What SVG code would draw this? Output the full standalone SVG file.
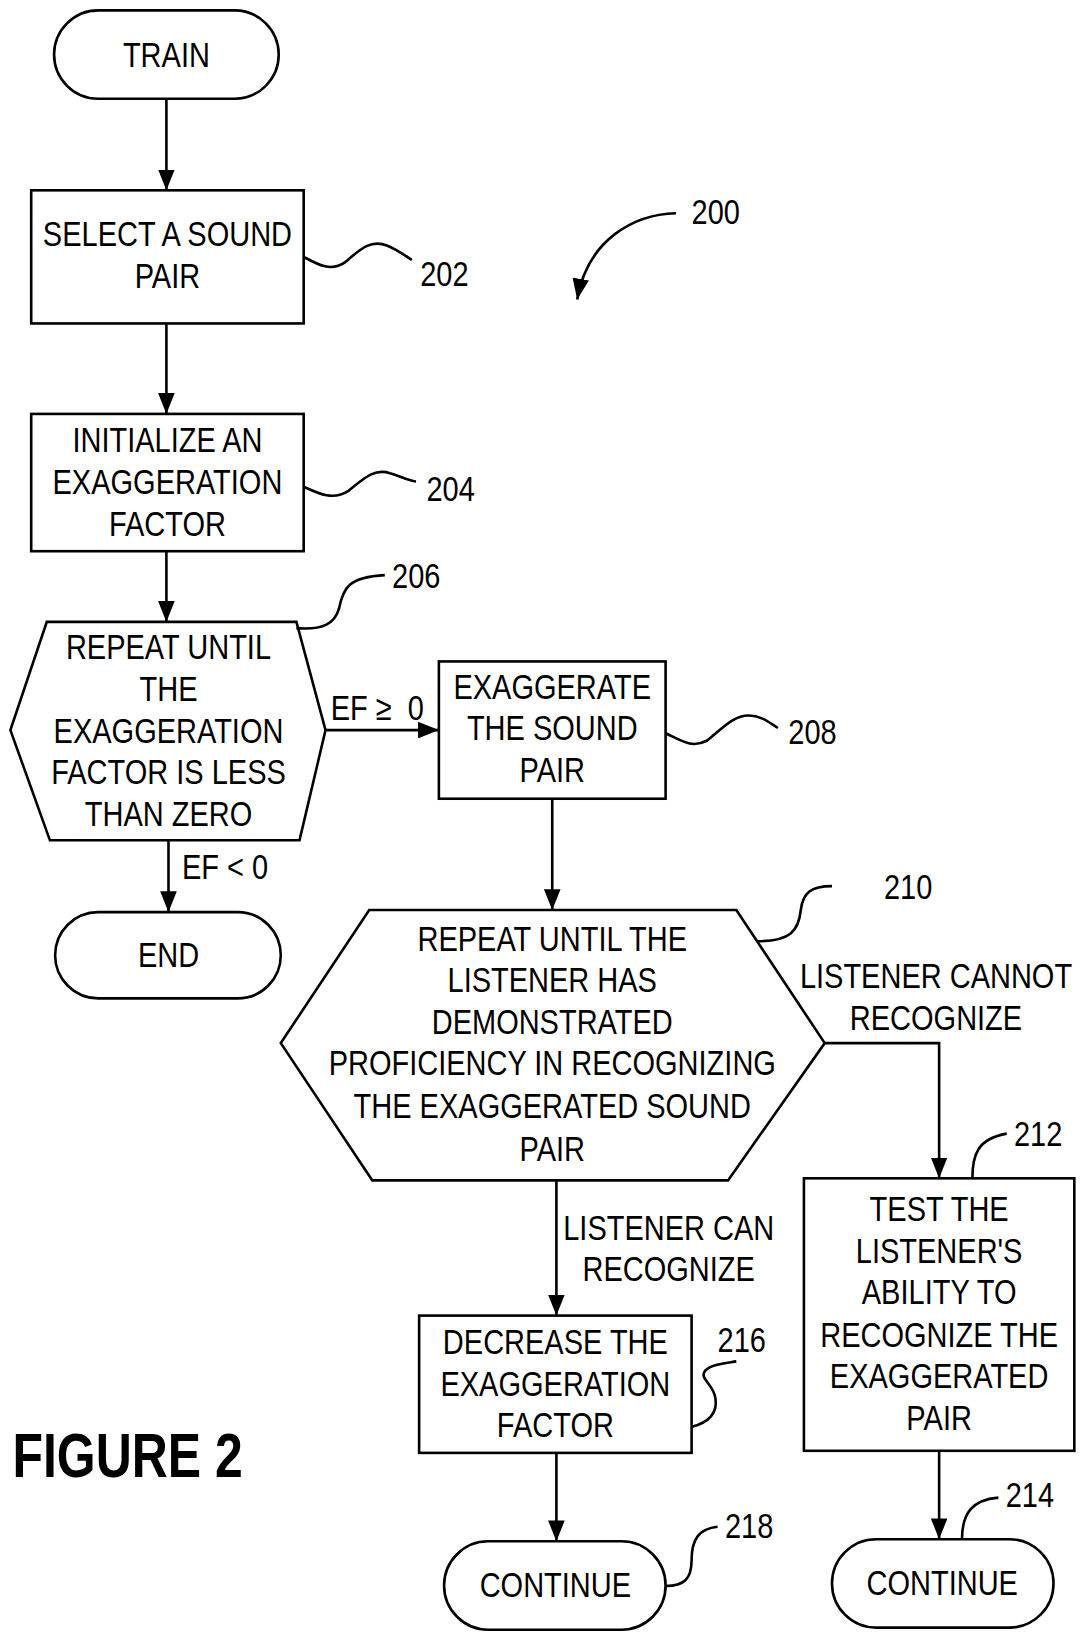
<svg xmlns="http://www.w3.org/2000/svg" width="1080" height="1633" viewBox="0 0 1080 1633">
<defs>
<style>
.s{fill:none;stroke:#000;stroke-width:2.5}
.b{fill:#fff;stroke:#000;stroke-width:2.5}
.n{font-family:"Liberation Sans",Arial,sans-serif;font-size:34px;fill:#000;text-anchor:middle}
.l{font-family:"Liberation Sans",Arial,sans-serif;font-size:34px;fill:#000}
.f{font-family:"Liberation Sans",Arial,sans-serif;font-size:60px;font-weight:bold;fill:#000}
</style>
<marker id="ah" viewBox="0 0 20 16" refX="20" refY="8" markerWidth="20" markerHeight="16" orient="auto" markerUnits="userSpaceOnUse"><path d="M0,0 L20,8 L0,16 Z" fill="#000"/></marker>
</defs>
<rect width="1080" height="1633" fill="#fff"/>
<g transform="scale(1.04)">
<g id="connectors">
<line class="s" x1="160" y1="95" x2="160" y2="183" marker-end="url(#ah)"/>
<line class="s" x1="160" y1="311" x2="160" y2="398" marker-end="url(#ah)"/>
<line class="s" x1="160" y1="530" x2="160" y2="598" marker-end="url(#ah)"/>
<line class="s" x1="313" y1="702" x2="422" y2="702" marker-end="url(#ah)"/>
<text class="l" transform="translate(318 692) scale(0.82 1)" xml:space="preserve">EF ≥  0</text>
<line class="s" x1="162" y1="808" x2="162" y2="877" marker-end="url(#ah)"/>
<text class="l" transform="translate(175 845) scale(0.82 1)">EF &lt; 0</text>
<line class="s" x1="531" y1="768" x2="531" y2="875" marker-end="url(#ah)"/>
<path class="s" d="M793,1003 H903 V1133" marker-end="url(#ah)"/>
<text class="n" transform="translate(900 950) scale(0.82 1)">LISTENER CANNOT</text>
<text class="n" transform="translate(900 990) scale(0.82 1)">RECOGNIZE</text>
<line class="s" x1="535" y1="1135" x2="535" y2="1265" marker-end="url(#ah)"/>
<text class="n" transform="translate(643 1192) scale(0.82 1)">LISTENER CAN</text>
<text class="n" transform="translate(643 1232) scale(0.82 1)">RECOGNIZE</text>
<line class="s" x1="535" y1="1397" x2="535" y2="1482" marker-end="url(#ah)"/>
<line class="s" x1="903" y1="1395" x2="903" y2="1480" marker-end="url(#ah)"/>
<path class="s" d="M650,205 C610,206 565,230 555,288" marker-end="url(#ah)"/>
<text class="l" transform="translate(665 215) scale(0.82 1)">200</text>
</g>
<g id="train">
<rect class="b" x="52" y="10" width="216" height="85" rx="42.5"/>
<text class="n" transform="translate(160 64) scale(0.82 1)">TRAIN</text>
</g>
<g id="n202">
<rect class="b" x="30" y="183" width="262" height="128"/>
<text class="n" transform="translate(161 237) scale(0.82 1)">SELECT A SOUND</text>
<text class="n" transform="translate(161 277) scale(0.82 1)">PAIR</text>
<path class="s" d="M292,247 C305,254 318,262 332,252 C346,240 356,230 372,236 C382,240 390,246 396,250"/>
<text class="l" transform="translate(404 275) scale(0.82 1)">202</text>
</g>
<g id="n204">
<rect class="b" x="30" y="398" width="262" height="132"/>
<text class="n" transform="translate(161 435) scale(0.82 1)">INITIALIZE AN</text>
<text class="n" transform="translate(161 475) scale(0.82 1)">EXAGGERATION</text>
<text class="n" transform="translate(161 515) scale(0.82 1)">FACTOR</text>
<path class="s" d="M292,468 C305,474 320,482 335,472 C350,460 360,450 375,455 C385,458 392,462 400,463"/>
<text class="l" transform="translate(410 482) scale(0.82 1)">204</text>
</g>
<g id="n206">
<polygon class="b" points="45,598 285,598 313,702 288,808 48,808 10,702"/>
<text class="n" transform="translate(162 634) scale(0.82 1)">REPEAT UNTIL</text>
<text class="n" transform="translate(162 674) scale(0.82 1)">THE</text>
<text class="n" transform="translate(162 714) scale(0.82 1)">EXAGGERATION</text>
<text class="n" transform="translate(162 754) scale(0.82 1)">FACTOR IS LESS</text>
<text class="n" transform="translate(162 794) scale(0.82 1)">THAN ZERO</text>
<path class="s" d="M285,604 C310,606 322,600 326,585 C330,565 335,555 370,553"/>
<text class="l" transform="translate(377 565) scale(0.82 1)">206</text>
</g>
<g id="n208">
<rect class="b" x="422" y="636" width="218" height="132"/>
<text class="n" transform="translate(531 672) scale(0.82 1)">EXAGGERATE</text>
<text class="n" transform="translate(531 712) scale(0.82 1)">THE SOUND</text>
<text class="n" transform="translate(531 752) scale(0.82 1)">PAIR</text>
<path class="s" d="M640,705 C655,712 665,720 680,712 C695,700 705,688 720,688 C732,688 740,695 748,700"/>
<text class="l" transform="translate(758 715) scale(0.82 1)">208</text>
</g>
<g id="end">
<rect class="b" x="53" y="877" width="217" height="83" rx="41.5"/>
<text class="n" transform="translate(162 930) scale(0.82 1)">END</text>
</g>
<g id="n210">
<polygon class="b" points="355,875 708,875 793,1003 700,1135 358,1135 270,1003"/>
<text class="n" transform="translate(531 914) scale(0.82 1)">REPEAT UNTIL THE</text>
<text class="n" transform="translate(531 954) scale(0.82 1)">LISTENER HAS</text>
<text class="n" transform="translate(531 994) scale(0.82 1)">DEMONSTRATED</text>
<text class="n" transform="translate(531 1034) scale(0.82 1)">PROFICIENCY IN RECOGNIZING</text>
<text class="n" transform="translate(531 1075) scale(0.82 1)">THE EXAGGERATED SOUND</text>
<text class="n" transform="translate(531 1116) scale(0.82 1)">PAIR</text>
<path class="s" d="M728,905 C760,905 768,895 770,875 C772,858 780,852 800,852"/>
<text class="l" transform="translate(850 864) scale(0.82 1)">210</text>
</g>
<g id="n212">
<rect class="b" x="773" y="1133" width="260" height="262"/>
<text class="n" transform="translate(903 1174) scale(0.82 1)">TEST THE</text>
<text class="n" transform="translate(903 1214) scale(0.82 1)">LISTENER'S</text>
<text class="n" transform="translate(903 1254) scale(0.82 1)">ABILITY TO</text>
<text class="n" transform="translate(903 1295) scale(0.82 1)">RECOGNIZE THE</text>
<text class="n" transform="translate(903 1335) scale(0.82 1)">EXAGGERATED</text>
<text class="n" transform="translate(903 1375) scale(0.82 1)">PAIR</text>
<path class="s" d="M935,1133 C935,1110 940,1095 968,1090"/>
<text class="l" transform="translate(975 1102) scale(0.82 1)">212</text>
</g>
<g id="n214">
<rect class="b" x="800" y="1480" width="213" height="85" rx="42.5"/>
<text class="n" transform="translate(906 1534) scale(0.82 1)">CONTINUE</text>
<path class="s" d="M925,1480 C925,1455 935,1442 960,1440"/>
<text class="l" transform="translate(967 1449) scale(0.82 1)">214</text>
</g>
<g id="n216">
<rect class="b" x="403" y="1265" width="262" height="132"/>
<text class="n" transform="translate(534 1302) scale(0.82 1)">DECREASE THE</text>
<text class="n" transform="translate(534 1342) scale(0.82 1)">EXAGGERATION</text>
<text class="n" transform="translate(534 1382) scale(0.82 1)">FACTOR</text>
<path class="s" d="M665,1372 C680,1368 690,1360 688,1345 C686,1330 672,1326 678,1318 C684,1312 696,1311 708,1309"/>
<text class="l" transform="translate(690 1300) scale(0.82 1)">216</text>
</g>
<g id="n218">
<rect class="b" x="427" y="1482" width="213" height="85" rx="42.5"/>
<text class="n" transform="translate(534 1536) scale(0.82 1)">CONTINUE</text>
<path class="s" d="M640,1525 C658,1525 665,1518 665,1500 C665,1480 672,1470 690,1468"/>
<text class="l" transform="translate(697 1479) scale(0.82 1)">218</text>
</g>
<text class="f" transform="translate(12 1420) scale(0.8 1)">FIGURE 2</text>
</g>
</svg>
